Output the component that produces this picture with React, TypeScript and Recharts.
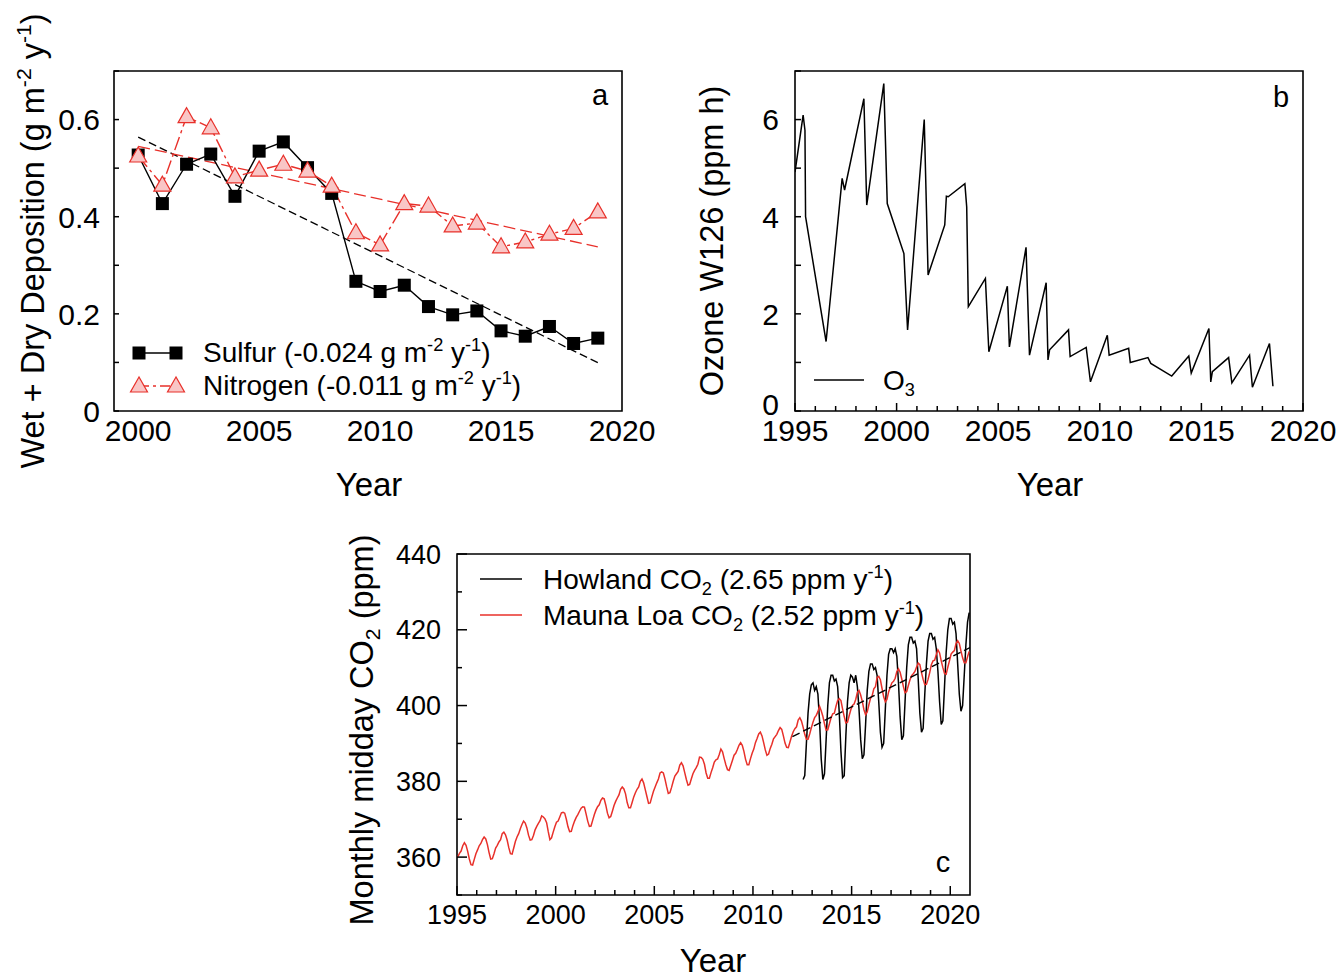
import React from "react";
import { LineChart, Line, XAxis, YAxis, ReferenceArea } from "recharts";

const FONT = '"Liberation Sans", Arial, Helvetica, sans-serif';
const RED = "#e8302a";

// ---- panel a: deposition ----
const depYears = [2000, 2001, 2002, 2003, 2004, 2005, 2006, 2007, 2008, 2009, 2010, 2011, 2012, 2013, 2014, 2015, 2016, 2017, 2018, 2019];
const sulfur = [0.527, 0.427, 0.508, 0.529, 0.442, 0.535, 0.554, 0.501, 0.448, 0.267, 0.246, 0.259, 0.215, 0.198, 0.206, 0.165, 0.154, 0.174, 0.139, 0.15];
const nitrogen = [0.525, 0.465, 0.606, 0.583, 0.482, 0.496, 0.508, 0.494, 0.463, 0.367, 0.342, 0.427, 0.422, 0.381, 0.387, 0.338, 0.348, 0.364, 0.376, 0.41];
const trendYears = [2000, 2019];
const sulfurTrend = [0.564, 0.0995];
const nitrogenTrend = [0.545, 0.338];
const depXTicks = [2000, 2005, 2010, 2015, 2020];
const depYTicks = [0, 0.1, 0.2, 0.3, 0.4, 0.5, 0.6, 0.7];
const depYLabels = [0, 0.2, 0.4, 0.6];

// ---- panel b: ozone W126 ----
const o3Year = [
  1995.0, 1995.4, 1995.49, 1995.52, 1996.53, 1997.32, 1997.44, 1998.39, 1998.53, 1999.37, 1999.54,
  2000.36, 2000.54, 2001.36, 2001.55, 2002.37, 2002.45, 2002.54, 2003.36, 2003.45, 2003.53,
  2004.37, 2004.54, 2005.45, 2005.55, 2006.37, 2006.54, 2007.36, 2007.45, 2007.53, 2008.46, 2008.54,
  2009.33, 2009.54, 2010.37, 2010.46, 2011.42, 2011.5, 2012.37, 2012.51, 2013.54, 2014.38, 2014.5,
  2015.37, 2015.46, 2015.54, 2016.34, 2016.5, 2017.37, 2017.51, 2018.35, 2018.52,
];
const o3W126 = [
  4.92, 6.09, 5.78, 4.0, 1.43, 4.79, 4.55, 6.43, 4.24, 6.74, 4.27,
  3.24, 1.67, 6.0, 2.8, 3.83, 4.42, 4.41, 4.68, 4.2, 2.15,
  2.73, 1.22, 2.57, 1.32, 3.37, 1.15, 2.64, 1.05, 1.26, 1.67, 1.12,
  1.31, 0.6, 1.56, 1.15, 1.29, 1.0, 1.1, 0.98, 0.72, 1.13, 0.78,
  1.7, 0.6, 0.81, 1.1, 0.58, 1.15, 0.49, 1.39, 0.51,
];
const o3XTicks = [1995, 1996, 1997, 1998, 1999, 2000, 2001, 2002, 2003, 2004, 2005, 2006, 2007, 2008, 2009, 2010, 2011, 2012, 2013, 2014, 2015, 2016, 2017, 2018, 2019, 2020];
const o3XLabels = [1995, 2000, 2005, 2010, 2015, 2020];
const o3YTicks = [0, 1, 2, 3, 4, 5, 6, 7];
const o3YLabels = [0, 2, 4, 6];

// ---- panel c: monthly midday CO2 ----
const mlYears = [1995, 1996, 1997, 1998, 1999, 2000, 2001, 2002, 2003, 2004, 2005, 2006, 2007, 2008, 2009, 2010, 2011, 2012, 2013, 2014, 2015, 2016, 2017, 2018, 2019, 2020];
const maunaLoa = [
  [360.1, 361.0, 361.6, 363.0, 363.8, 363.1, 361.5, 359.5, 358.0, 357.9, 359.4, 360.9],
  [361.9, 363.0, 363.6, 364.6, 365.3, 364.8, 363.3, 361.2, 359.5, 359.6, 360.9, 362.4],
  [363.1, 364.0, 364.6, 366.2, 366.6, 365.9, 364.5, 362.5, 360.9, 360.8, 362.4, 364.1],
  [365.3, 366.2, 367.5, 368.6, 369.5, 369.0, 367.7, 365.8, 364.5, 364.6, 365.7, 367.2],
  [368.1, 368.9, 369.6, 370.9, 370.6, 370.1, 369.1, 366.7, 364.6, 365.1, 366.6, 368.0],
  [369.2, 369.5, 370.6, 371.7, 371.8, 371.6, 370.0, 368.0, 366.7, 366.8, 368.3, 369.5],
  [370.5, 371.2, 372.1, 372.9, 373.3, 373.2, 371.4, 369.5, 368.1, 368.2, 369.7, 371.2],
  [372.4, 373.3, 373.8, 375.0, 375.6, 375.4, 373.7, 371.6, 370.4, 370.7, 372.1, 373.6],
  [374.7, 375.6, 376.4, 377.9, 378.5, 378.0, 376.7, 374.4, 373.0, 373.0, 374.4, 375.9],
  [377.0, 377.9, 378.5, 380.0, 380.6, 379.6, 377.8, 376.0, 374.2, 374.3, 375.9, 377.4],
  [378.5, 379.6, 380.6, 382.2, 382.5, 382.2, 380.6, 378.6, 376.8, 377.0, 378.4, 380.0],
  [381.4, 382.0, 382.6, 384.3, 384.9, 384.1, 382.3, 380.5, 379.0, 379.2, 380.6, 382.0],
  [382.9, 383.6, 384.5, 386.4, 386.3, 385.8, 384.5, 382.2, 380.8, 380.8, 382.3, 383.6],
  [385.1, 385.7, 385.9, 387.1, 388.5, 387.8, 386.0, 384.4, 383.1, 382.9, 384.2, 385.5],
  [386.9, 387.4, 388.4, 389.5, 390.2, 389.5, 387.9, 385.8, 384.4, 384.4, 386.0, 387.4],
  [388.5, 390.2, 391.3, 392.5, 393.0, 392.0, 390.2, 388.3, 386.9, 387.2, 388.7, 389.8],
  [391.2, 391.8, 392.4, 393.4, 394.2, 393.7, 392.0, 390.1, 389.0, 388.9, 390.4, 391.9],
  [393.1, 393.9, 394.4, 396.2, 396.8, 395.9, 394.3, 392.4, 391.1, 391.1, 392.5, 394.1],
  [395.6, 396.8, 397.4, 398.4, 399.8, 398.6, 397.2, 395.2, 393.5, 393.6, 395.2, 396.8],
  [397.8, 398.0, 399.8, 401.3, 401.8, 401.3, 399.1, 397.1, 395.4, 395.6, 397.3, 398.9],
  [400.0, 400.4, 401.6, 403.5, 404.0, 402.8, 401.1, 398.9, 397.6, 398.3, 400.2, 401.9],
  [402.6, 404.4, 405.0, 407.4, 407.7, 406.8, 404.5, 402.3, 401.0, 401.6, 403.6, 404.8],
  [406.0, 406.4, 407.2, 409.0, 409.7, 408.8, 407.0, 405.0, 403.4, 403.7, 405.3, 406.8],
  [407.9, 408.4, 409.0, 410.2, 411.2, 410.8, 408.7, 406.9, 405.5, 405.6, 406.9, 408.7],
  [410.8, 411.8, 412.0, 413.5, 414.7, 413.9, 411.8, 410.0, 408.5, 408.3, 410.1, 411.8],
  [413.6, 414.1, 414.5, 416.4, 417.1, 416.4, 414.4, 412.6, 411.3, 411.3, 412.9, 414.3],
];
const howlandYears = [2012, 2013, 2014, 2015, 2016, 2017, 2018, 2019, 2020];
const howland = [
  [null, null, null, null, null, null, 380.5, 381.5, 390, 398, 403, 405.5],
  [406, 404, 405, 403, 396, 386, 380.5, 382, 391, 400, 406, 408],
  [408, 406.5, 407, 405, 398, 388, 381, 381.5, 392, 401, 406, 408],
  [407.5, 406, 408, 405, 399, 391, 386, 387, 395, 404, 409, 411],
  [411, 409.5, 410, 408, 401, 393, 389, 390, 399, 408, 413.5, 415],
  [415, 414, 415, 413, 406, 397, 391, 392, 401, 410, 416, 418],
  [418, 416.5, 417, 415, 407, 398, 393, 394, 403, 411, 417, 419],
  [419, 417.5, 418, 415, 409, 401, 395, 396, 405, 414, 420, 423],
  [423, 421.5, 422, 419, 411, 403, 398.5, 400, 408, 416, 422, 424.5],
];
const howlandTrendYears = [2012.0, 2021];
const howlandTrend = [391.8, 415.3];
const co2XTicks = [1995, 1996, 1997, 1998, 1999, 2000, 2001, 2002, 2003, 2004, 2005, 2006, 2007, 2008, 2009, 2010, 2011, 2012, 2013, 2014, 2015, 2016, 2017, 2018, 2019, 2020];
const co2XLabels = [1995, 2000, 2005, 2010, 2015, 2020];
const co2YTicks = [350, 360, 370, 380, 390, 400, 410, 420, 430, 440];
const co2YLabels = [360, 380, 400, 420, 440];

const pairs = (xs: number[], ys: number[]) => xs.map((x, i) => ({ x, y: ys[i] }));
const monthly = (years: number[], rows: (number | null)[][]) =>
  years.flatMap((yr, i) =>
    rows[i]
      .map((v, m) => ({ x: yr + (m + 0.5) / 12, y: v }))
      .filter((d) => d.y != null)
  );

const sulfurData = pairs(depYears, sulfur);
const nitrogenData = pairs(depYears, nitrogen);
const sulfurTrendData = pairs(trendYears, sulfurTrend);
const nitrogenTrendData = pairs(trendYears, nitrogenTrend);
const o3Data = pairs(o3Year, o3W126);
const mlData = monthly(mlYears, maunaLoa);
const howlandData = monthly(howlandYears, howland);
const howlandTrendData = pairs(howlandTrendYears, howlandTrend);

// ticks point inward, labels only on the listed values
const xTick = (labels: number[], majorLen: number, minorLen: number, size: number) => (p: any) => {
  const v = p.payload.value;
  const major = labels.includes(v);
  const len = major ? majorLen : minorLen;
  return (
    <g>
      {len > 0 && <line x1={p.x} x2={p.x} y1={p.y} y2={p.y - len} stroke="#000" strokeWidth={1.5} />}
      {major && (
        <text x={p.x} y={p.y + size * 0.36 + 19} textAnchor="middle" fontSize={size} fontFamily={FONT} fill="#000">
          {v}
        </text>
      )}
    </g>
  );
};

const yTick = (labels: number[], majorLen: number, minorLen: number, gap: number, size: number, lift = 0) => (p: any) => {
  const v = p.payload.value;
  const major = labels.includes(v);
  const len = major ? majorLen : minorLen;
  return (
    <g>
      {len > 0 && <line x1={p.x} x2={p.x + len} y1={p.y} y2={p.y} stroke="#000" strokeWidth={1.5} />}
      {major && (
        <text x={p.x - gap} y={p.y + size * 0.36 - (v === 0 ? lift : 0)} textAnchor="end" fontSize={size} fontFamily={FONT} fill="#000">
          {v}
        </text>
      )}
    </g>
  );
};

const squareDot = (p: any) => (
  <rect key={`sq-${p.index}`} x={p.cx - 6.5} y={p.cy - 6.5} width={13} height={13} fill="#000" />
);
const triangleDot = (p: any) => (
  <polygon
    key={`tr-${p.index}`}
    points={`${p.cx},${p.cy - 9} ${p.cx - 8.5},${p.cy + 6} ${p.cx + 8.5},${p.cy + 6}`}
    fill="#f9c6c6"
    stroke={RED}
    strokeWidth={1.2}
  />
);

const Sup = ({ children }: { children: React.ReactNode }) => (
  <span style={{ fontSize: "0.65em", position: "relative", top: "-0.6em" }}>{children}</span>
);
const Sub = ({ children }: { children: React.ReactNode }) => (
  <span style={{ fontSize: "0.65em", position: "relative", top: "0.35em" }}>{children}</span>
);

const abs = (left: number, top: number, extra: React.CSSProperties = {}): React.CSSProperties => ({
  position: "absolute",
  left,
  top,
  whiteSpace: "nowrap",
  lineHeight: 1,
  fontFamily: FONT,
  color: "#000",
  ...extra,
});

const YTitle = ({ cx, cy, children }: { cx: number; cy: number; children: React.ReactNode }) => (
  <div style={abs(cx, cy, { fontSize: 32.5, transform: "translate(-50%, -50%) rotate(-90deg)" })}>{children}</div>
);
const XTitle = ({ cx, cy }: { cx: number; cy: number }) => (
  <div style={abs(cx, cy, { fontSize: 33, transform: "translate(-50%, -50%)" })}>Year</div>
);
const PanelTag = ({ cx, cy, t }: { cx: number; cy: number; t: string }) => (
  <div style={abs(cx, cy, { fontSize: 29, transform: "translate(-50%, -50%)" })}>{t}</div>
);
const LegendText = ({ left, cy, children }: { left: number; cy: number; children: React.ReactNode }) => (
  <div style={abs(left, cy, { fontSize: 28, transform: "translateY(-50%)" })}>{children}</div>
);

export default function App() {
  return (
    <div style={{ position: "absolute", left: 0, top: 0, width: 1338, height: 980, background: "#fff", overflow: "hidden" }}>
      {/* a */}
      <div style={{ position: "absolute", left: 0, top: 0 }}>
        <LineChart width={670} height={460} margin={{ top: 71, right: 48, bottom: 19, left: 54 }}>
          <XAxis dataKey="x" type="number" domain={[1999, 2020]} allowDataOverflow ticks={depXTicks} interval={0}
            height={30} axisLine={false} tickLine={false} tickSize={0} tickMargin={0} tick={xTick(depXTicks, 0, 0, 30)} />
          <YAxis type="number" domain={[0, 0.7]} allowDataOverflow ticks={depYTicks} interval={0}
            width={60} axisLine={false} tickLine={false} tickSize={0} tickMargin={0} tick={yTick(depYLabels, 5, 5, 14, 30)} />
          <ReferenceArea x1={1999} x2={2020} y1={0} y2={0.7} fill="none" stroke="#000" strokeWidth={1.6} />
          <Line data={sulfurTrendData} dataKey="y" stroke="#000" strokeWidth={1.3} strokeDasharray="8 4" dot={false} isAnimationActive={false} />
          <Line data={nitrogenTrendData} dataKey="y" stroke={RED} strokeWidth={1.3} strokeDasharray="12 5" dot={false} isAnimationActive={false} />
          <Line data={sulfurData} dataKey="y" stroke="#000" strokeWidth={1.4} dot={squareDot} isAnimationActive={false} />
          <Line data={nitrogenData} dataKey="y" stroke={RED} strokeWidth={1.4} strokeDasharray="14 4 3 4" dot={triangleDot} isAnimationActive={false} />
        </LineChart>
      </div>

      {/* b */}
      <div style={{ position: "absolute", left: 700, top: 0 }}>
        <LineChart width={638} height={460} margin={{ top: 71, right: 35, bottom: 19, left: 35 }}>
          <XAxis dataKey="x" type="number" domain={[1995, 2020]} allowDataOverflow ticks={o3XTicks} interval={0}
            height={30} axisLine={false} tickLine={false} tickSize={0} tickMargin={0} tick={xTick(o3XLabels, 8, 5, 30)} />
          <YAxis type="number" domain={[0, 7]} allowDataOverflow ticks={o3YTicks} interval={0}
            width={60} axisLine={false} tickLine={false} tickSize={0} tickMargin={0} tick={yTick(o3YLabels, 6, 6, 16, 30, 7)} />
          <ReferenceArea x1={1995} x2={2020} y1={0} y2={7} fill="none" stroke="#000" strokeWidth={1.6} />
          <Line data={o3Data} dataKey="y" stroke="#000" strokeWidth={1.5} dot={false} isAnimationActive={false} />
        </LineChart>
      </div>

      {/* c */}
      <div style={{ position: "absolute", left: 360, top: 480 }}>
        <LineChart width={640} height={460} margin={{ top: 74, right: 30, bottom: 15, left: 37 }}>
          <XAxis dataKey="x" type="number" domain={[1995, 2021]} allowDataOverflow ticks={co2XTicks} interval={0}
            height={30} axisLine={false} tickLine={false} tickSize={0} tickMargin={0} tick={xTick(co2XLabels, 9, 5, 27)} />
          <YAxis type="number" domain={[350, 440]} allowDataOverflow ticks={co2YTicks} interval={0}
            width={60} axisLine={false} tickLine={false} tickSize={0} tickMargin={0} tick={yTick(co2YLabels, 10, 5, 16, 27)} />
          <ReferenceArea x1={1995} x2={2021} y1={350} y2={440} fill="none" stroke="#000" strokeWidth={1.6} />
          <Line data={howlandData} dataKey="y" stroke="#000" strokeWidth={1.5} dot={false} isAnimationActive={false} />
          <Line data={mlData} dataKey="y" stroke={RED} strokeWidth={1.5} dot={false} isAnimationActive={false} />
          <Line data={howlandTrendData} dataKey="y" stroke="#000" strokeWidth={1.4} strokeDasharray="8 4" dot={false} isAnimationActive={false} />
        </LineChart>
      </div>

      {/* axis titles */}
      <YTitle cx={33} cy={241}>
        Wet + Dry Deposition (g m<Sup>-2</Sup> y<Sup>-1</Sup>)
      </YTitle>
      <YTitle cx={712} cy={241}>Ozone W126 (ppm h)</YTitle>
      <YTitle cx={362} cy={730}>
        Monthly midday CO<Sub>2</Sub> (ppm)
      </YTitle>
      <XTitle cx={369} cy={484} />
      <XTitle cx={1050} cy={484} />
      <XTitle cx={713} cy={960} />

      <PanelTag cx={600} cy={95} t="a" />
      <PanelTag cx={1281} cy={97} t="b" />
      <PanelTag cx={943} cy={862} t="c" />

      {/* legend a */}
      <svg style={{ position: "absolute", left: 126, top: 336 }} width={64} height={68}>
        <line x1={13} x2={50} y1={17} y2={17} stroke="#000" strokeWidth={1.4} />
        <rect x={6.5} y={10.5} width={13} height={13} fill="#000" />
        <rect x={43.5} y={10.5} width={13} height={13} fill="#000" />
        <line x1={13} x2={50} y1={50} y2={50} stroke={RED} strokeWidth={1.4} strokeDasharray="10 4 3 4" />
        <polygon points="13,41 4.5,56 21.5,56" fill="#f9c6c6" stroke={RED} strokeWidth={1.2} />
        <polygon points="50,41 41.5,56 58.5,56" fill="#f9c6c6" stroke={RED} strokeWidth={1.2} />
      </svg>
      <LegendText left={203} cy={353}>
        Sulfur (-0.024 g m<Sup>-2</Sup> y<Sup>-1</Sup>)
      </LegendText>
      <LegendText left={203} cy={386}>
        Nitrogen (-0.011 g m<Sup>-2</Sup> y<Sup>-1</Sup>)
      </LegendText>

      {/* legend b */}
      <svg style={{ position: "absolute", left: 812, top: 370 }} width={54} height={20}>
        <line x1={2} x2={52} y1={10} y2={10} stroke="#000" strokeWidth={1.5} />
      </svg>
      <LegendText left={883} cy={381}>
        O<Sub>3</Sub>
      </LegendText>

      {/* legend c */}
      <svg style={{ position: "absolute", left: 478, top: 568 }} width={48} height={60}>
        <line x1={2} x2={44} y1={11} y2={11} stroke="#000" strokeWidth={1.5} />
        <line x1={2} x2={44} y1={47} y2={47} stroke={RED} strokeWidth={1.5} />
      </svg>
      <LegendText left={543} cy={580}>
        Howland CO<Sub>2</Sub> (2.65 ppm y<Sup>-1</Sup>)
      </LegendText>
      <LegendText left={543} cy={616}>
        Mauna Loa CO<Sub>2</Sub> (2.52 ppm y<Sup>-1</Sup>)
      </LegendText>
    </div>
  );
}
